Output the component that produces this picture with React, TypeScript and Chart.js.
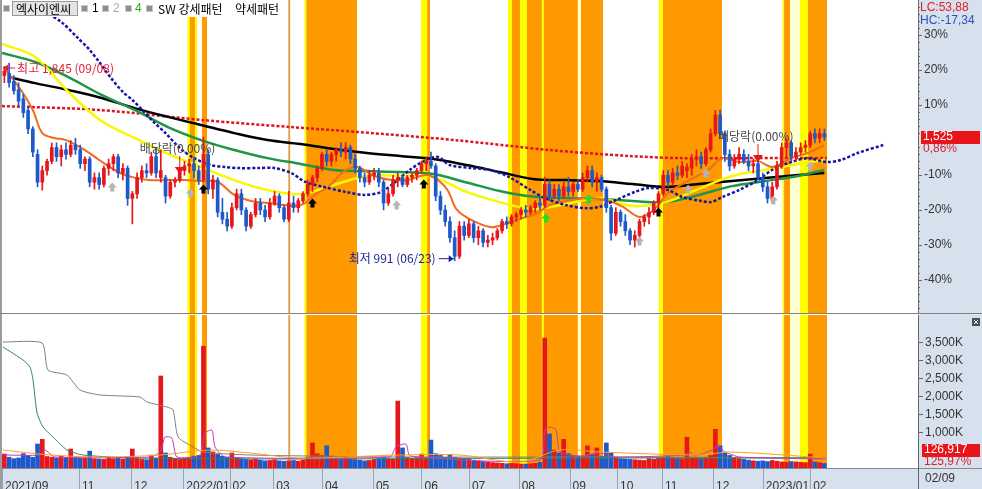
import React, { useEffect, useRef } from "react";
import { Chart, registerables } from "chart.js";

Chart.register(...registerables);

const FONT = "'Liberation Sans', Arial, sans-serif";
const KFONT = "'Noto Sans CJK KR', 'Noto Sans', sans-serif";

// ---------- scale settings ----------
const BASE_PRICE = 1512;
const PRICE_MIN = 765;
const PRICE_MAX = 2117;
const VOL_MAX = 4274; // thousands
const X_MAX = 386.5; // trading-day slots shown
const DAYS_PER_CANDLE = 2;

// ---------- axis labels ----------
const monthDays = [0, 32.5, 54.5, 76.5, 96, 114.5, 135, 156.5, 177, 197, 218, 239.5, 259.5, 278.5, 300, 321, 341];
const monthLabels = ["2021/09", "11", "12", "2022/01", "02", "03", "04", "05", "06", "07", "08", "09", "10", "11", "12", "2023/01", "02"];
const lastDateLabel = "02/09";
const pctTicks = [-40, -30, -20, -10, 10, 20, 30];
const volTicks = [1000, 1500, 2000, 2500, 3000, 3500];

// ---------- candles (2 sessions each) ----------
const opens = [
  1790, 1800, 1765, 1730, 1690, 1640, 1560, 1450, 1330, 1380,
  1420, 1480, 1440, 1470, 1450, 1490, 1470, 1410, 1430, 1330,
  1350, 1320, 1390, 1410, 1440, 1370, 1390, 1260, 1280, 1350,
  1380, 1370, 1440, 1350, 1350, 1270, 1330, 1340, 1380, 1400,
  1410, 1380, 1340, 1450, 1300, 1340, 1200, 1170, 1140, 1220,
  1280, 1210, 1140, 1190, 1240, 1210, 1180, 1240, 1270, 1220,
  1170, 1240, 1220, 1250, 1280, 1320, 1350, 1390, 1450, 1420,
  1450, 1470, 1460, 1480, 1430, 1390, 1350, 1330, 1360, 1370,
  1330, 1240, 1280, 1340, 1350, 1320, 1350, 1360, 1380, 1410,
  1420, 1400, 1270, 1210, 1160, 1090, 1010, 1140, 1100, 1150,
  1090, 1120, 1070, 1080, 1090, 1120, 1160, 1150, 1180, 1190,
  1210, 1200, 1220, 1240, 1230, 1320, 1270, 1300, 1270, 1310,
  1290, 1320, 1300, 1350, 1380, 1330, 1350, 1300, 1220, 1110,
  1200, 1160, 1120, 1080, 1100, 1160, 1180, 1200, 1240, 1280,
  1360, 1330, 1370, 1360, 1380, 1390, 1430, 1440, 1410, 1470,
  1540, 1620, 1540, 1450, 1400, 1430, 1450, 1420, 1400, 1410,
  1350, 1310, 1260, 1310, 1400, 1480, 1500, 1440, 1460, 1480,
  1490, 1540, 1520, 1540,
];
const highs = [
  1830, 1845, 1790, 1760, 1710, 1660, 1570, 1470, 1400, 1430,
  1500, 1500, 1490, 1500, 1510, 1520, 1490, 1440, 1440, 1370,
  1370, 1400, 1430, 1450, 1450, 1410, 1400, 1290, 1370, 1400,
  1410, 1460, 1480, 1470, 1360, 1340, 1350, 1390, 1420, 1430,
  1440, 1400, 1525, 1470, 1360, 1350, 1260, 1200, 1240, 1300,
  1300, 1220, 1200, 1260, 1260, 1230, 1260, 1290, 1280, 1230,
  1290, 1270, 1260, 1290, 1340, 1360, 1400, 1460, 1470, 1460,
  1480, 1500, 1500, 1490, 1450, 1400, 1370, 1380, 1390, 1390,
  1340, 1300, 1360, 1370, 1360, 1360, 1370, 1390, 1420, 1440,
  1460, 1410, 1290, 1230, 1180, 1120, 1160, 1160, 1170, 1160,
  1140, 1130, 1100, 1110, 1130, 1170, 1180, 1190, 1200, 1220,
  1230, 1230, 1250, 1260, 1352, 1340, 1320, 1320, 1330, 1350,
  1330, 1340, 1370, 1400, 1400, 1370, 1360, 1310, 1230, 1220,
  1210, 1190, 1130, 1120, 1170, 1190, 1220, 1250, 1290, 1380,
  1380, 1390, 1400, 1420, 1410, 1450, 1470, 1460, 1480, 1560,
  1640, 1642, 1550, 1470, 1450, 1480, 1470, 1450, 1430, 1420,
  1370, 1330, 1330, 1420, 1500, 1520, 1510, 1480, 1500, 1510,
  1550, 1560, 1560, 1560,
];
const lows = [
  1760, 1740, 1710, 1660, 1610, 1540, 1440, 1310, 1296, 1360,
  1410, 1420, 1400, 1430, 1440, 1450, 1390, 1380, 1310, 1300,
  1300, 1310, 1360, 1380, 1350, 1340, 1230, 1150, 1260, 1330,
  1350, 1360, 1350, 1330, 1240, 1260, 1310, 1330, 1360, 1370,
  1350, 1320, 1330, 1280, 1260, 1180, 1150, 1120, 1130, 1210,
  1190, 1120, 1130, 1180, 1190, 1160, 1170, 1230, 1200, 1160,
  1160, 1200, 1200, 1240, 1270, 1290, 1330, 1380, 1400, 1400,
  1420, 1440, 1430, 1410, 1370, 1330, 1310, 1320, 1340, 1310,
  1210, 1230, 1270, 1310, 1310, 1310, 1330, 1340, 1370, 1380,
  1390, 1250, 1190, 1140, 1070, 991, 1000, 1080, 1090, 1070,
  1060, 1050, 1050, 1060, 1080, 1110, 1130, 1140, 1160, 1170,
  1180, 1190, 1200, 1210, 1220, 1250, 1260, 1250, 1260, 1270,
  1270, 1290, 1290, 1330, 1310, 1290, 1290, 1200, 1080, 1100,
  1140, 1100, 1060, 1050, 1090, 1140, 1150, 1190, 1220, 1270,
  1310, 1320, 1340, 1350, 1350, 1360, 1400, 1390, 1400, 1460,
  1530, 1520, 1420, 1380, 1390, 1410, 1410, 1380, 1370, 1340,
  1290, 1240, 1240, 1300, 1390, 1440, 1420, 1420, 1450, 1460,
  1480, 1500, 1500, 1510,
];
const closes = [
  1810, 1760, 1725, 1680, 1630, 1560, 1460, 1330, 1380, 1420,
  1480, 1440, 1470, 1450, 1490, 1470, 1410, 1430, 1330, 1350,
  1320, 1390, 1410, 1440, 1370, 1390, 1260, 1280, 1350, 1380,
  1370, 1440, 1370, 1380, 1270, 1330, 1340, 1380, 1400, 1410,
  1380, 1340, 1450, 1300, 1340, 1200, 1170, 1140, 1220, 1280,
  1210, 1140, 1190, 1240, 1210, 1180, 1240, 1270, 1220, 1170,
  1240, 1220, 1250, 1280, 1320, 1350, 1390, 1450, 1420, 1450,
  1470, 1460, 1480, 1430, 1390, 1350, 1330, 1360, 1370, 1330,
  1240, 1280, 1340, 1350, 1320, 1350, 1360, 1380, 1410, 1420,
  1400, 1270, 1210, 1160, 1090, 1010, 1140, 1100, 1150, 1090,
  1120, 1070, 1080, 1090, 1120, 1160, 1150, 1180, 1190, 1210,
  1200, 1220, 1240, 1230, 1320, 1270, 1300, 1270, 1310, 1290,
  1320, 1300, 1350, 1380, 1330, 1350, 1300, 1220, 1110, 1200,
  1160, 1120, 1080, 1100, 1160, 1180, 1200, 1240, 1280, 1360,
  1330, 1370, 1360, 1400, 1395, 1430, 1440, 1410, 1470, 1540,
  1620, 1540, 1450, 1400, 1430, 1450, 1420, 1400, 1410, 1350,
  1310, 1260, 1310, 1400, 1480, 1500, 1440, 1460, 1480, 1490,
  1540, 1520, 1540, 1525,
];
// volume, thousands of shares
const volumes = [
  390, 300, 260, 280, 400, 350, 300, 670, 800, 320,
  300, 280, 330, 280, 530, 300, 270, 290, 470, 260,
  250, 240, 300, 260, 280, 250, 300, 530, 280, 240,
  230, 360, 280, 2570, 420, 300, 260, 240, 280, 300,
  330, 350, 3400, 560, 450, 380, 330, 300, 420, 280,
  260, 240, 230, 250, 220, 200, 210, 230, 200, 190,
  200, 210, 190, 220, 300, 700, 400, 350, 620, 330,
  280, 260, 300, 250, 230, 220, 200, 210, 240, 260,
  300, 260, 250, 1870, 560, 300, 270, 290, 390, 300,
  780, 400, 350, 300, 380, 300, 280, 260, 240, 220,
  200, 180, 170, 150, 140, 130, 120, 130, 120, 110,
  110, 120, 130, 160, 3630, 950, 500, 420, 800, 400,
  350, 330, 320, 620, 380, 560, 330, 700, 420, 300,
  260, 250, 240, 230, 220, 210, 260, 240, 280, 300,
  320, 280, 260, 250, 860, 300, 280, 260, 300, 350,
  1080, 620, 420, 350, 300, 260, 240, 220, 200, 190,
  200, 180, 210, 190, 170, 160, 180, 170, 160, 150,
  390, 170, 150, 127,
];

// ---------- price moving averages ----------
const trendDays = [0, 14, 28, 42, 56, 70, 84, 98, 112, 126, 140, 154, 168, 182, 196, 210, 224, 238, 252, 266, 280, 294, 308, 322, 336, 347];
const greenVals = [1888, 1849, 1784, 1707, 1642, 1568, 1512, 1469, 1434, 1409, 1383, 1378, 1374, 1365, 1329, 1292, 1268, 1262, 1257, 1249, 1244, 1275, 1313, 1335, 1357, 1383];
const yellowVals = [1927, 1871, 1720, 1594, 1521, 1452, 1396, 1339, 1296, 1279, 1318, 1357, 1357, 1352, 1288, 1244, 1214, 1236, 1262, 1227, 1244, 1301, 1357, 1383, 1409, 1426];
const blackDays = [3, 14, 28, 42, 56, 70, 84, 98, 112, 126, 140, 154, 168, 182, 196, 210, 224, 238, 252, 266, 280, 294, 308, 322, 336, 347];
const blackVals = [1784, 1758, 1728, 1694, 1650, 1612, 1577, 1542, 1512, 1495, 1473, 1456, 1443, 1430, 1404, 1374, 1344, 1339, 1335, 1322, 1309, 1322, 1335, 1348, 1361, 1370];
const orangeDays = [1, 8, 13, 17, 22, 27, 35, 41, 49, 55, 62, 70, 77, 84, 91, 98, 105, 112, 119, 126, 132, 138, 144, 150, 157, 165, 171, 179, 184, 188, 192, 198, 206, 211, 217, 226, 231, 240, 248, 255, 262, 269, 275, 281, 290, 298, 304, 311, 319, 325, 333, 340, 347];
const orangeVals = [1823, 1728, 1642, 1542, 1521, 1512, 1469, 1426, 1374, 1352, 1339, 1339, 1339, 1335, 1331, 1275, 1249, 1240, 1231, 1231, 1275, 1313, 1374, 1396, 1357, 1339, 1339, 1361, 1339, 1296, 1210, 1167, 1136, 1145, 1167, 1197, 1231, 1253, 1262, 1253, 1223, 1180, 1210, 1283, 1339, 1383, 1434, 1417, 1421, 1396, 1434, 1456, 1491];
const blueDays = [18, 25, 32, 37, 41, 46, 51, 55, 60, 64, 69, 75, 81, 88, 94, 100, 108, 115, 122, 128, 136, 145, 153, 160, 166, 172, 179, 184, 189, 198, 206, 214, 223, 229, 238, 246, 252, 260, 267, 273, 281, 287, 295, 299, 304, 311, 319, 325, 333, 340, 348, 354, 361, 372];
const blueVals = [2065, 2022, 1953, 1901, 1849, 1780, 1720, 1685, 1633, 1590, 1542, 1478, 1434, 1404, 1396, 1391, 1391, 1391, 1370, 1331, 1309, 1288, 1275, 1288, 1331, 1383, 1426, 1439, 1404, 1391, 1383, 1352, 1296, 1262, 1231, 1218, 1223, 1257, 1288, 1305, 1296, 1266, 1249, 1244, 1266, 1296, 1339, 1383, 1417, 1434, 1417, 1426, 1456, 1491];
const redDays = [0, 41, 84, 122, 150, 191, 231, 265, 286, 316, 348];
const redVals = [1659, 1642, 1599, 1568, 1547, 1512, 1469, 1443, 1434, 1434, 1434];

// ---------- volume moving averages ----------
const vGrayDays = [0.4, 16.9, 19.4, 27.4, 32.9, 41.4, 58.2, 61.2, 69.6, 72.2, 74.3, 80.6, 84.8, 104.6, 167.9, 252.3, 347.7];
const vGrayVals = [3519, 3491, 2737, 2597, 2179, 2039, 1983, 1843, 1704, 1620, 866, 587, 447, 363, 307, 307, 279];
const vGreenDays = [0.4, 8.9, 11.8, 13.1, 14.8, 17.3, 21.5, 27.4, 34.2, 55.3, 125.7, 252.3, 347.7];
const vGreenVals = [3380, 3016, 2821, 2458, 1536, 1145, 866, 503, 363, 279, 251, 279, 279];
const vPinkDays = [0.4, 16.0, 18.1, 22.4, 62.4, 66.7, 68.8, 71.7, 73.8, 83.5, 85.7, 88.6, 89.9, 94.1, 163.7, 166.2, 170.5, 172.2, 227.0, 229.1, 231.2, 233.8, 235.4, 243.9, 252.3, 258.6, 288.2, 290.3, 292.4, 299.6, 302.1, 305.1, 311.4, 347.7];
const vPinkVals = [363, 363, 503, 307, 307, 447, 866, 838, 307, 363, 978, 1061, 587, 307, 307, 587, 670, 335, 223, 1061, 1145, 1061, 447, 335, 419, 307, 363, 447, 335, 503, 615, 447, 307, 251];
const vOrangeDays = [0.4, 20.3, 41.4, 66.7, 87.8, 104.6, 125.7, 167.9, 193.2, 218.6, 235.4, 252.3, 294.5, 307.2, 347.7];
const vOrangeVals = [503, 363, 307, 363, 503, 419, 279, 363, 363, 168, 503, 447, 363, 447, 279];

// ---------- highlighted pattern bands (in session units) ----------
const bandStarts = [78.3, 79.3, 84.4, 120.8, 127.6, 128.4, 176.8, 179.4, 213.5, 215.2, 218.6, 221.5, 227.8, 228.7, 243.0, 244.3, 277.2, 278.9, 329.4, 330.0, 332.5, 336.7, 340.1];
const bandEnds = [82.3, 81.4, 86.5, 121.6, 128.4, 149.8, 179.4, 180.6, 215.2, 218.6, 221.5, 227.8, 228.7, 243.0, 244.3, 253.6, 278.9, 303.8, 330.0, 332.5, 336.7, 340.1, 348.1];
const bandKinds = ["Y", "O", "O", "T", "Y", "O", "Y", "O", "Y", "O", "Y", "O", "Y", "O", "P", "O", "Y", "O", "Y", "O", "P", "Y", "O"];

// ---------- signal markers ----------
const signalDays = [46.5, 79.5, 166.5, 269, 289.5, 297, 325.5, 341, 85, 131, 178, 277, 229.5, 247.5];
const signalPrices = [1309, 1283, 1231, 1076, 1301, 1370, 1253, 1400, 1301, 1240, 1322, 1201, 1175, 1257];
const signalKinds = ["g", "g", "g", "g", "g", "g", "g", "g", "k", "k", "k", "k", "G", "G"];
const divDays = [75, 319];
const divPrices = [1374, 1426];

const maxLabel = "최고 1,845 (09/08)";
const minLabel = "최저 991 (06/23)";
const divLabel = "배당락(0.00%)";
const lcLabel = "LC:53,88";
const hcLabel = "HC:-17,34";
const lastPriceLabel = "1,525";
const lastPctLabel = "0,86%";
const lastVolLabel = "126,917";
const lastVolPctLabel = "125,97%";

const UP = "#E5161C";
const DOWN = "#1F58C9";
const AXIS_BG = "#D7E1EE";

const candleDay = (i: number) => i * DAYS_PER_CANDLE + 1;
const pts = (days: number[], vals: number[]) => days.map((d, i) => ({ x: d, y: vals[i] }));
const isUp = closes.map((c, i) => c >= opens[i]);
const candleColors = isUp.map((u) => (u ? UP : DOWN));

function bandColor(k: string) {
  if (k === "O") return "#FF9900";
  if (k === "Y") return "#FFFF00";
  if (k === "P") return "#FFFFD0";
  return "#E0A050";
}

const bandsPlugin = {
  id: "bands",
  beforeDatasetsDraw(chart: any) {
    const { ctx, chartArea: a, scales } = chart;
    const x = scales.x;
    ctx.save();
    bandStarts.forEach((s, i) => {
      const x0 = x.getPixelForValue(s);
      const x1 = x.getPixelForValue(bandEnds[i]);
      ctx.fillStyle = bandColor(bandKinds[i]);
      ctx.fillRect(x0, a.top, x1 - x0, a.bottom - a.top);
    });
    ctx.restore();
  },
};

function bgPlugin(id: string, strip: number) {
  return {
    id,
    beforeDraw(chart: any) {
      const { ctx, chartArea: a, width, height } = chart;
      ctx.save();
      ctx.fillStyle = "#FFFFFF";
      ctx.fillRect(0, 0, width, height);
      ctx.fillStyle = AXIS_BG;
      ctx.fillRect(a.right, 0, width - a.right, height);
      if (strip > 0) ctx.fillRect(0, a.bottom, width, height - a.bottom);
      ctx.restore();
    },
  };
}

function upArrow(ctx: CanvasRenderingContext2D, cx: number, top: number, color: string) {
  ctx.fillStyle = color;
  ctx.beginPath();
  ctx.moveTo(cx, top);
  ctx.lineTo(cx + 4.5, top + 5);
  ctx.lineTo(cx + 2, top + 5);
  ctx.lineTo(cx + 2, top + 9);
  ctx.lineTo(cx - 2, top + 9);
  ctx.lineTo(cx - 2, top + 5);
  ctx.lineTo(cx - 4.5, top + 5);
  ctx.closePath();
  ctx.fill();
}

function hline(ctx: CanvasRenderingContext2D, x0: number, x1: number, y: number, color: string) {
  ctx.strokeStyle = color;
  ctx.lineWidth = 1;
  ctx.beginPath();
  ctx.moveTo(x0, y);
  ctx.lineTo(x1, y);
  ctx.stroke();
}
function vline(ctx: CanvasRenderingContext2D, x: number, y0: number, y1: number, color: string) {
  ctx.strokeStyle = color;
  ctx.lineWidth = 1;
  ctx.beginPath();
  ctx.moveTo(x, y0);
  ctx.lineTo(x, y1);
  ctx.stroke();
}

const topDecor = {
  id: "topDecor",
  afterDatasetsDraw(chart: any) {
    const { ctx, scales } = chart;
    const x = scales.x;
    const y = scales.y;
    ctx.save();
    // signal arrows
    signalDays.forEach((d, i) => {
      const cx = x.getPixelForValue(d);
      const cy = y.getPixelForValue(signalPrices[i]);
      const k = signalKinds[i];
      const col = k === "k" ? "#000000" : k === "G" ? "#22DD22" : "#B4B4B4";
      upArrow(ctx, cx, cy - 4.5, col);
    });
    // dividend markers
    ctx.font = `12px ${KFONT}`;
    ctx.textBaseline = "middle";
    divDays.forEach((d, i) => {
      const cx = x.getPixelForValue(d);
      const cy = y.getPixelForValue(divPrices[i]);
      vline(ctx, cx, cy - 16, cy - 4, "#E5161C");
      ctx.fillStyle = "#E5161C";
      ctx.beginPath();
      ctx.moveTo(cx - 5, cy - 5);
      ctx.lineTo(cx + 5, cy - 5);
      ctx.lineTo(cx, cy + 2);
      ctx.closePath();
      ctx.fill();
      ctx.fillStyle = "#4A4A4A";
      ctx.textAlign = "left";
      ctx.fillText(divLabel, cx - 40, cy - 24);
    });
    // highest
    let hi = 0;
    highs.forEach((h, i) => { if (h > highs[hi]) hi = i; });
    const hx = x.getPixelForValue(candleDay(hi)) - 6;
    const hy = y.getPixelForValue(highs[hi]) + 5;
    ctx.strokeStyle = "#E0203A";
    ctx.fillStyle = "#E0203A";
    ctx.lineWidth = 1;
    ctx.beginPath();
    ctx.moveTo(hx, hy);
    ctx.lineTo(hx + 12, hy);
    ctx.stroke();
    ctx.beginPath();
    ctx.moveTo(hx, hy);
    ctx.lineTo(hx + 5, hy - 3.5);
    ctx.lineTo(hx + 5, hy + 3.5);
    ctx.closePath();
    ctx.fill();
    ctx.textAlign = "left";
    ctx.fillText(maxLabel, hx + 14, hy);
    // lowest
    let lo = 0;
    lows.forEach((l, i) => { if (l < lows[lo]) lo = i; });
    const lx = x.getPixelForValue(candleDay(lo)) - 1;
    const ly = y.getPixelForValue(lows[lo]) - 2;
    ctx.strokeStyle = "#1E1E9A";
    ctx.fillStyle = "#1E1E9A";
    ctx.beginPath();
    ctx.moveTo(lx - 15, ly);
    ctx.lineTo(lx, ly);
    ctx.stroke();
    ctx.beginPath();
    ctx.moveTo(lx, ly);
    ctx.lineTo(lx - 5, ly - 3.5);
    ctx.lineTo(lx - 5, ly + 3.5);
    ctx.closePath();
    ctx.fill();
    ctx.textAlign = "right";
    ctx.fillText(minLabel, lx - 18, ly);
    ctx.restore();
  },
  afterDraw(chart: any) {
    const { ctx, chartArea: a, scales, width, height } = chart;
    const y = scales.y;
    ctx.save();
    // minor ticks on the percent axis
    for (let p = -48; p <= 38; p += 2) {
      if (p % 10 === 0) continue;
      const yy = Math.round(y.getPixelForValue(BASE_PRICE * (1 + p / 100))) + 0.5;
      hline(ctx, a.right, a.right + 2, yy, "#666666");
    }
    // left border and panel separator
    ctx.fillStyle = "#9C9C9C";
    ctx.fillRect(0, 0, 2, height);
    hline(ctx, 0, width, height - 0.5, "#808080");
    // LC / HC
    ctx.font = `12px ${FONT}`;
    ctx.textBaseline = "middle";
    ctx.textAlign = "left";
    ctx.fillStyle = "#E0202A";
    ctx.fillText(lcLabel, a.right + 2, 8);
    ctx.fillStyle = "#2850C0";
    ctx.fillText(hcLabel, a.right + 2, 21);
    // last price box
    const yp = y.getPixelForValue(closes[closes.length - 1]);
    ctx.fillStyle = "#E8141C";
    ctx.fillRect(a.right + 3, Math.round(yp - 6.5), 59, 13);
    ctx.fillStyle = "#FFFFFF";
    ctx.fillText(lastPriceLabel, a.right + 5, yp);
    ctx.fillStyle = "#E0202A";
    ctx.fillText(lastPctLabel, a.right + 5, yp + 12);
    // legend strip
    ctx.fillStyle = "#FFFFFF";
    ctx.fillRect(2, 0, 283, 17);
    const sq = (sx: number) => {
      ctx.fillStyle = "#8E8E8E";
      ctx.fillRect(sx, 6, 5, 5);
      ctx.strokeStyle = "#C8C8C8";
      ctx.strokeRect(sx - 0.5, 5.5, 6, 6);
    };
    sq(4);
    ctx.fillStyle = "#E4E4E4";
    ctx.fillRect(12, 1, 66, 15);
    ctx.strokeStyle = "#9A9A9A";
    ctx.strokeRect(12.5, 1.5, 65, 14);
    ctx.font = `12px ${KFONT}`;
    ctx.fillStyle = "#000000";
    ctx.fillText("엑사이엔씨", 16, 9);
    sq(82);
    ctx.font = `12px ${FONT}`;
    ctx.fillStyle = "#000000";
    ctx.fillText("1", 92, 9);
    sq(103);
    ctx.fillStyle = "#AAAAAA";
    ctx.fillText("2", 113, 9);
    sq(126);
    ctx.fillStyle = "#22AA22";
    ctx.fillText("4", 135, 9);
    sq(147);
    ctx.font = `12px ${KFONT}`;
    ctx.fillStyle = "#000000";
    ctx.fillText("SW 강세패턴", 158, 9);
    ctx.fillText("약세패턴", 235, 9);
    ctx.restore();
  },
};

const bottomDecor = {
  id: "bottomDecor",
  afterDraw(chart: any) {
    const { ctx, chartArea: a, scales, width, height } = chart;
    const x = scales.x;
    const y = scales.y;
    ctx.save();
    // date strip
    hline(ctx, 0, width, a.bottom + 0.5, "#8A8A8A");
    monthDays.forEach((d) => {
      const px = Math.round(x.getPixelForValue(d)) + 0.5;
      vline(ctx, px, a.bottom + 1, height, "#98A4B6");
    });
    vline(ctx, a.right + 0.5, a.bottom, height, "#666666");
    ctx.font = `12px ${FONT}`;
    ctx.textBaseline = "middle";
    ctx.textAlign = "left";
    ctx.fillStyle = "#333333";
    ctx.fillText(lastDateLabel, a.right + 7, a.bottom + 11);
    // volume box
    const yb = y.getPixelForValue(500);
    ctx.fillStyle = "#E8141C";
    ctx.fillRect(a.right + 4, Math.round(yb - 6.5), 58, 13);
    ctx.fillStyle = "#FFFFFF";
    ctx.fillText(lastVolLabel, a.right + 6, yb);
    ctx.fillStyle = "#E0202A";
    ctx.fillText(lastVolPctLabel, a.right + 6, yb + 12);
    // close icon
    ctx.fillStyle = "#505050";
    ctx.fillRect(972, 4, 8, 8);
    ctx.strokeStyle = "#FFFFFF";
    ctx.lineWidth = 1;
    ctx.beginPath();
    ctx.moveTo(974, 6);
    ctx.lineTo(978, 10);
    ctx.moveTo(978, 6);
    ctx.lineTo(974, 10);
    ctx.stroke();
    // left border
    ctx.fillStyle = "#9C9C9C";
    ctx.fillRect(0, 0, 2, height);
    ctx.restore();
  },
};

function lineDs(data: any[], color: string, width: number, order: number, dash: number[] = [], tension = 0.35) {
  return {
    type: "line",
    data,
    borderColor: color,
    borderWidth: width,
    borderDash: dash,
    pointRadius: 0,
    tension,
    fill: false,
    order,
  };
}

function topConfig(): any {
  const wicks = highs.map((h, i) => ({ x: candleDay(i), y: [lows[i], h] }));
  const bodies = opens.map((o, i) => ({ x: candleDay(i), y: [o, closes[i]] }));
  return {
    type: "bar",
    data: {
      datasets: [
        lineDs(pts(redDays, redVals), "#E0141E", 2.5, 8, [3, 2], 0.3),
        lineDs(pts(blackDays, blackVals), "#000000", 2.5, 7),
        lineDs(pts(trendDays, greenVals), "#1E9646", 2.5, 6),
        lineDs(pts(trendDays, yellowVals), "#F8F800", 2.5, 5),
        lineDs(pts(orangeDays, orangeVals), "#F26B1D", 2, 4),
        lineDs(pts(blueDays, blueVals), "#1616A4", 2.5, 3, [3, 2], 0.3),
        {
          type: "bar",
          data: wicks,
          backgroundColor: candleColors,
          barThickness: 1,
          grouped: false,
          order: 2,
        },
        {
          type: "bar",
          data: bodies,
          backgroundColor: candleColors,
          barThickness: 3,
          minBarLength: 1,
          grouped: false,
          order: 1,
        },
      ],
    },
    options: {
      animation: false,
      responsive: false,
      maintainAspectRatio: false,
      events: [],
      layout: { padding: { left: 2, top: 0, right: 0, bottom: 1 } },
      plugins: { legend: { display: false }, tooltip: { enabled: false } },
      scales: {
        x: { type: "linear", min: 0, max: X_MAX, display: false, offset: false },
        y: {
          type: "linear",
          position: "right",
          min: PRICE_MIN,
          max: PRICE_MAX,
          beginAtZero: false,
          afterBuildTicks: (s: any) => {
            s.ticks = pctTicks.map((k) => ({ value: BASE_PRICE * (1 + k / 100) }));
          },
          afterFit: (s: any) => {
            s.width = 64;
            s.paddingTop = 0;
            s.paddingBottom = 0;
          },
          ticks: {
            callback: (v: any) => Math.round((Number(v) / BASE_PRICE - 1) * 100) + "%",
            color: "#333333",
            font: { family: FONT, size: 12 },
            padding: 2,
            crossAlign: "near",
            autoSkip: false,
          },
          grid: { drawOnChartArea: false, drawTicks: true, tickLength: 4, color: "#666666" },
          border: { display: true, color: "#666666" },
        },
      },
    },
    plugins: [bgPlugin("bgTop", 0), bandsPlugin, topDecor],
  };
}

function bottomConfig(): any {
  const bars = volumes.map((v, i) => ({ x: candleDay(i), y: v }));
  return {
    type: "bar",
    data: {
      datasets: [
        {
          type: "bar",
          data: bars,
          backgroundColor: candleColors,
          barThickness: 4,
          order: 5,
        },
        lineDs(pts(vGrayDays, vGrayVals), "#808080", 1, 4, [], 0.2),
        lineDs(pts(vGreenDays, vGreenVals), "#2E8B57", 1, 3, [], 0.2),
        lineDs(pts(vPinkDays, vPinkVals), "#C23CC2", 1, 2, [], 0.2),
        lineDs(pts(vOrangeDays, vOrangeVals), "#FFA020", 1, 1, [], 0.3),
      ],
    },
    options: {
      animation: false,
      responsive: false,
      maintainAspectRatio: false,
      events: [],
      layout: { padding: { left: 2, top: 1, right: 0, bottom: 0 } },
      plugins: { legend: { display: false }, tooltip: { enabled: false } },
      scales: {
        x: {
          type: "linear",
          min: 0,
          max: X_MAX,
          offset: false,
          position: "bottom",
          afterBuildTicks: (s: any) => {
            s.ticks = monthDays.map((d) => ({ value: d }));
          },
          afterFit: (s: any) => {
            s.height = 21;
            s.paddingLeft = 0;
            s.paddingRight = 0;
          },
          ticks: {
            callback: (_v: any, i: number) => monthLabels[i],
            align: "start",
            labelOffset: 3,
            padding: 3,
            maxRotation: 0,
            minRotation: 0,
            autoSkip: false,
            color: "#333333",
            font: { family: FONT, size: 12 },
          },
          grid: { display: false },
          border: { display: false },
        },
        y: {
          type: "linear",
          position: "right",
          min: 0,
          max: VOL_MAX,
          beginAtZero: true,
          afterBuildTicks: (s: any) => {
            s.ticks = volTicks.map((v) => ({ value: v }));
          },
          afterFit: (s: any) => {
            s.width = 64;
            s.paddingTop = 0;
            s.paddingBottom = 0;
          },
          ticks: {
            callback: (v: any) => Number(v).toLocaleString("en-US") + "K",
            color: "#333333",
            font: { family: FONT, size: 12 },
            padding: 2,
            crossAlign: "near",
            autoSkip: false,
          },
          grid: { drawOnChartArea: false, drawTicks: true, tickLength: 5, color: "#666666" },
          border: { display: true, color: "#666666" },
        },
      },
    },
    plugins: [bgPlugin("bgBottom", 1), bandsPlugin, bottomDecor],
  };
}

export default function App() {
  const topRef = useRef<HTMLCanvasElement>(null);
  const botRef = useRef<HTMLCanvasElement>(null);
  useEffect(() => {
    document.body.style.margin = "0";
    Chart.defaults.font.family = FONT;
    const c1 = new Chart(topRef.current as HTMLCanvasElement, topConfig());
    const c2 = new Chart(botRef.current as HTMLCanvasElement, bottomConfig());
    return () => {
      c1.destroy();
      c2.destroy();
    };
  }, []);
  return (
    <div style={{ position: "absolute", left: 0, top: 0, width: 982, height: 489, overflow: "hidden", background: "#fff" }}>
      <canvas ref={topRef} width={982} height={314} style={{ position: "absolute", left: 0, top: 0, width: 982, height: 314 }} />
      <canvas ref={botRef} width={982} height={175} style={{ position: "absolute", left: 0, top: 314, width: 982, height: 175 }} />
    </div>
  );
}
